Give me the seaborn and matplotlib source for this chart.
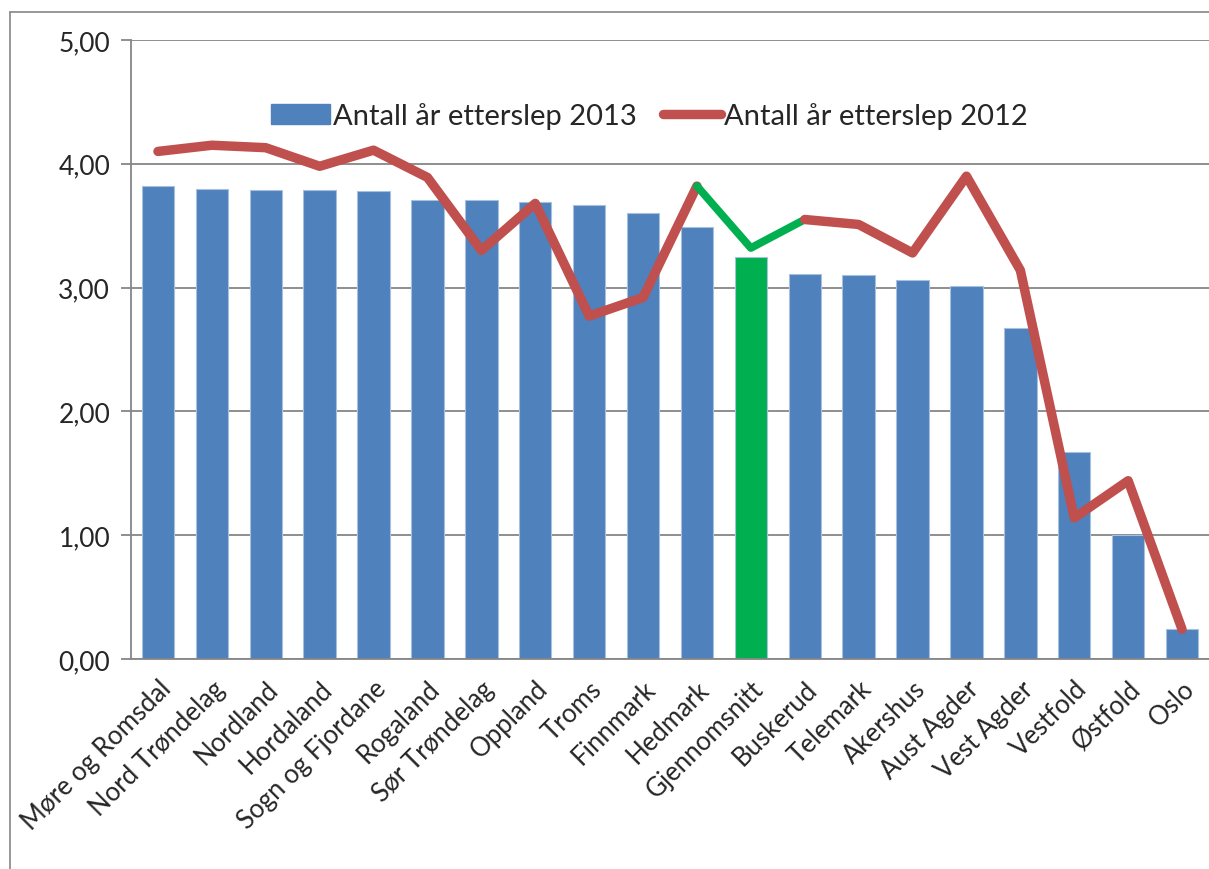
import numpy as np
import pandas as pd
import matplotlib
matplotlib.use('Agg')
import matplotlib.pyplot as plt
from matplotlib.patches import Patch
from matplotlib.lines import Line2D
from matplotlib.ticker import FuncFormatter, MultipleLocator
import seaborn as sns

fylker = ['Møre og Romsdal', 'Nord Trøndelag', 'Nordland', 'Hordaland', 'Sogn og Fjordane',
          'Rogaland', 'Sør Trøndelag', 'Oppland', 'Troms', 'Finnmark', 'Hedmark',
          'Gjennomsnitt', 'Buskerud', 'Telemark', 'Akershus', 'Aust Agder', 'Vest Agder',
          'Vestfold', 'Østfold', 'Oslo']
etterslep_2013 = [3.82, 3.80, 3.79, 3.79, 3.78, 3.71, 3.71, 3.69, 3.67, 3.60, 3.49,
                  3.25, 3.11, 3.10, 3.06, 3.01, 2.67, 1.67, 1.00, 0.24]
etterslep_2012 = [4.10, 4.15, 4.13, 3.98, 4.11, 3.89, 3.30, 3.68, 2.77, 2.92, 3.82,
                  3.32, 3.55, 3.51, 3.28, 3.90, 3.14, 1.14, 1.44, 0.24]

blue = '#4F81BD'
red = '#C0504D'
green = '#00B050'
grey = '#868686'

sns.set_style('white')
plt.rcParams['font.family'] = ['Lato', 'DejaVu Sans']

df = pd.DataFrame({'fylke': fylker, 'y2013': etterslep_2013, 'y2012': etterslep_2012})
df['pos'] = np.arange(len(df))
farger = [green if f == 'Gjennomsnitt' else blue for f in fylker]

fig = plt.figure(figsize=(12.09, 8.70), dpi=100)
ax = fig.add_axes([131 / 1209, 1 - 660 / 870, 1078 / 1209, 619 / 870])

sns.barplot(data=df, x='fylke', y='y2013', hue='fylke', palette=farger, legend=False,
            width=0.6, edgecolor='#A7C0DE', linewidth=0.8, saturation=1, ax=ax, zorder=2)

# linja: rød, men grønn rundt gjennomsnittet
gi = fylker.index('Gjennomsnitt')
seg1 = df.iloc[:gi]
seg2 = df.iloc[gi - 1:gi + 2]
seg3 = df.iloc[gi + 1:]
for seg, col, lw in [(seg1, red, 6.8), (seg2, green, 5.6), (seg3, red, 6.8)]:
    sns.lineplot(x=seg['pos'].values, y=seg['y2012'].values, color=col, linewidth=lw,
                 sort=False, ax=ax, zorder=4, solid_capstyle='round', solid_joinstyle='round')

ax.set_xlim(-0.5, len(fylker) - 0.5)
ax.set_ylim(0, 5)
ax.yaxis.set_major_locator(MultipleLocator(1))
ax.yaxis.set_major_formatter(FuncFormatter(lambda v, p: f'{v:.2f}'.replace('.', ',')))
ax.grid(axis='y', color=grey, linewidth=1.3, zorder=0)
ax.set_axisbelow(True)
ax.set_xlabel('')
ax.set_ylabel('')

for s in ['top', 'right']:
    ax.spines[s].set_visible(False)
for s in ['left', 'bottom']:
    ax.spines[s].set_color(grey)
    ax.spines[s].set_linewidth(1.3)

ax.set_xticks(np.arange(len(fylker)))
ax.set_xticklabels(fylker, rotation=45, ha='right', rotation_mode='anchor', fontsize=18.5)
ax.set_xticks(np.arange(len(fylker) + 1) - 0.5, minor=True)
ax.tick_params(axis='x', which='major', length=0, pad=12)
ax.tick_params(axis='x', which='minor', length=7, color=grey, width=1.3)
ax.tick_params(axis='y', length=7, color=grey, width=1.3, labelsize=19, pad=8, direction='out', left=True)

handles = [Patch(facecolor=blue, edgecolor=blue),
           Line2D([0], [0], color=red, linewidth=6.8, solid_capstyle='round')]
ax.legend(handles, ['Antall år etterslep 2013', 'Antall år etterslep 2012'],
          loc='center', bbox_to_anchor=(0.481, (660 - 117) / 619), ncol=2, frameon=False,
          fontsize=21, handlelength=2.0, handletextpad=0.1, columnspacing=0.9)

# ramme rundt diagrammet
fig.add_artist(Line2D([10 / 1209, 10 / 1209], [0, 1 - 13 / 870], color=grey, linewidth=1.2))
fig.add_artist(Line2D([10 / 1209, 1], [1 - 13 / 870, 1 - 13 / 870], color=grey, linewidth=1.2))

fig.savefig('out.png', dpi=100)
